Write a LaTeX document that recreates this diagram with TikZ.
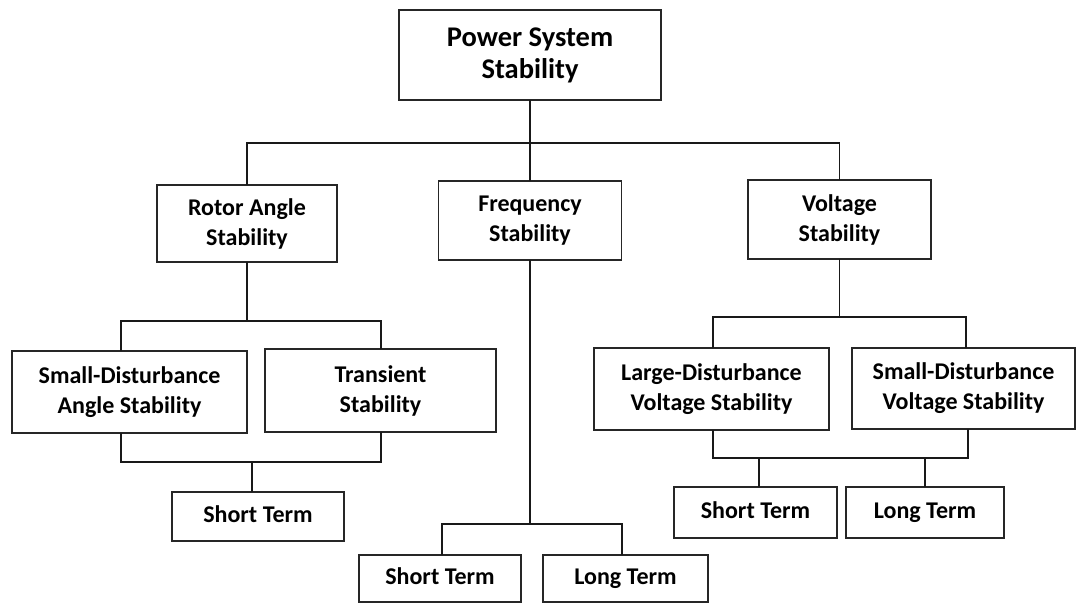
\documentclass[tikz,border=0pt]{standalone}
\usepackage{fontspec}
\setmainfont{Carlito}
\begin{document}
\begin{tikzpicture}[x=1pt,y=-1pt,
  box/.style={draw=black!85,line width=1.3pt,fill=white,align=center,inner sep=0pt,
    font=\fontsize{24}{30}\selectfont\bfseries},
  term/.style={box,text height=17pt,text depth=5pt},
  conn/.style={line width=1.8pt,black!90,line cap=rect}]
\useasboundingbox (0,0) rectangle (1077,603);
\fill[white] (0,0) rectangle (1077,603);
% nodes
\node[box,minimum width=262,minimum height=90,font=\fontsize{28.5}{32}\selectfont\bfseries] (pss) at (530,55) {Power System\\Stability};
\node[box,minimum width=180,minimum height=77] (rot) at (247,223.5) {Rotor Angle\\Stability};
\node[box,minimum width=183,minimum height=79] (freq) at (530,220.5) {Frequency\\Stability};
\node[box,minimum width=183,minimum height=79] (volt) at (839.5,219.5) {Voltage\\Stability};
\node[box,minimum width=235,minimum height=82] (sdas) at (129.5,392) {Small-Disturbance\\Angle Stability};
\node[box,minimum width=231,minimum height=83] (trans) at (380.5,390.5) {Transient\\Stability};
\node[box,minimum width=235,minimum height=82] (ldvs) at (711.5,389) {Large-Disturbance\\Voltage Stability};
\node[box,minimum width=223,minimum height=81] (sdvs) at (963.5,388.5) {Small-Disturbance\\Voltage Stability};
\node[term,minimum width=172,minimum height=49] (st1) at (258,516.5) {Short Term};
\node[term,minimum width=162,minimum height=47] (st2) at (440,578.5) {Short Term};
\node[term,minimum width=165,minimum height=47] (lt2) at (625.5,578.5) {Long Term};
\node[term,minimum width=163,minimum height=51] (st3) at (755.5,512.5) {Short Term};
\node[term,minimum width=158,minimum height=51] (lt3) at (925,512.5) {Long Term};
% bus coordinates
\coordinate (b1) at (530,143);
\coordinate (b2l) at (121,321);
\coordinate (b2r) at (381,321);
\coordinate (b3l) at (121,462);
\coordinate (b3r) at (381,462);
\coordinate (b3m) at (252,462);
\coordinate (f1) at (530,524);
\coordinate (f1l) at (442,524);
\coordinate (f1r) at (622,524);
\coordinate (v1l) at (713,317);
\coordinate (v1r) at (966,317);
\coordinate (v2l) at (713,458);
\coordinate (v2r) at (968,458);
\coordinate (v2s) at (759,458);
\coordinate (v2t) at (925,458);
% connectors
\draw[conn] (pss.south) -- (b1);
\draw[conn] (rot.north) |- (b1) -| (volt.north);
\draw[conn] (freq.north) -- (freq.north |- b1);
\draw[conn] (rot.south) -- (rot.south |- b2l);
\draw[conn] (b2l |- sdas.north) -- (b2l) -- (b2r) -- (b2r |- trans.north);
\draw[conn] (b3l |- sdas.south) -- (b3l) -- (b3r) -- (b3r |- trans.south);
\draw[conn] (b3m) -- (b3m |- st1.north);
\draw[conn] (freq.south) -- (f1);
\draw[conn] (f1l |- st2.north) -- (f1l) -- (f1r) -- (f1r |- lt2.north);
\draw[conn] (volt.south) -- (volt.south |- v1l);
\draw[conn] (v1l |- ldvs.north) -- (v1l) -- (v1r) -- (v1r |- sdvs.north);
\draw[conn] (v2l |- ldvs.south) -- (v2l) -- (v2r) -- (v2r |- sdvs.south);
\draw[conn] (v2s) -- (v2s |- st3.north);
\draw[conn] (v2t) -- (v2t |- lt3.north);
\end{tikzpicture}
\end{document}
